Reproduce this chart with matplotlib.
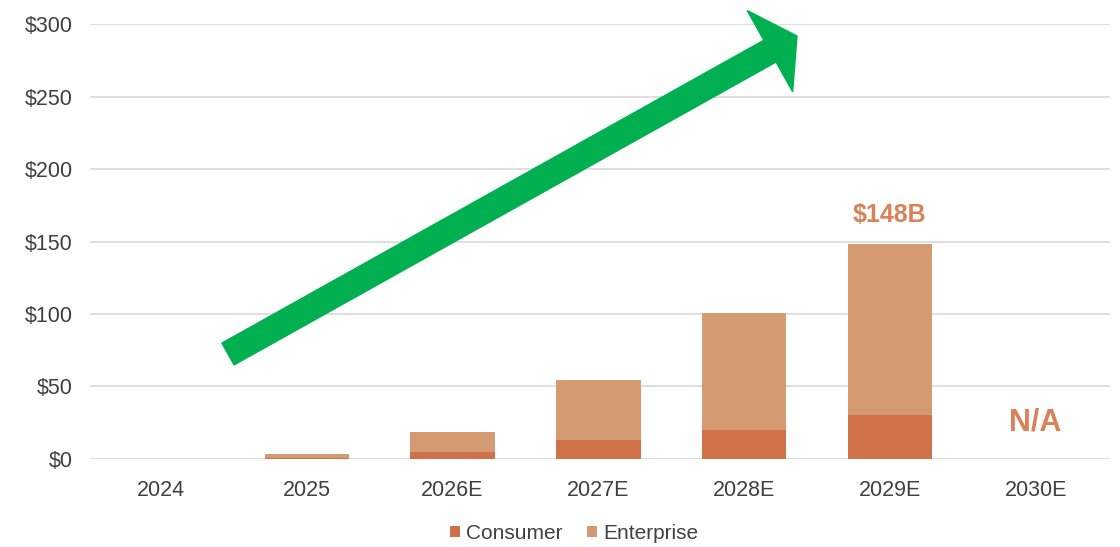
import numpy as np
import matplotlib
matplotlib.use('Agg')
import matplotlib.pyplot as plt
import matplotlib.patches as mpatches
from matplotlib.transforms import Affine2D

years = ['2024', '2025', '2026E', '2027E', '2028E', '2029E', '2030E']
consumer = [0, 0.5, 5, 13, 20, 30, 0]
enterprise = [0, 3, 13.5, 41.5, 81, 118, 0]
yticks = [0, 50, 100, 150, 200, 250, 300]

c_cons = '#D0714A'
c_ent = '#D49B73'
c_lbl = '#D9825A'
c_txt = '#404040'

plt.rcParams['font.family'] = ['Liberation Sans', 'DejaVu Sans']

fig = plt.figure(figsize=(11.2, 5.47), dpi=100)
ax = fig.add_axes([0.080, 0.161, 0.911, 0.795])

x = np.arange(len(years))
ax.bar(x, consumer, width=0.58, color=c_cons, label='Consumer', zorder=3)
ax.bar(x, enterprise, width=0.58, bottom=consumer, color=c_ent, label='Enterprise', zorder=3)

ax.set_xlim(-0.49, 6.51)
ax.set_ylim(0, 300)
ax.set_yticks(yticks)
ax.set_yticklabels(['$' + str(v) for v in yticks])
ax.set_xticks(x)
ax.set_xticklabels(years)
ax.tick_params(axis='both', length=0, labelsize=15.5, colors=c_txt)
ax.tick_params(axis='x', pad=15)
ax.tick_params(axis='y', pad=12)
ax.grid(axis='y', color='#d9d9d9', linewidth=1.2, zorder=0)
for s in ax.spines.values():
    s.set_visible(False)

total_2029 = consumer[5] + enterprise[5]
ax.text(5, total_2029 + 20, '$%dB' % round(total_2029), ha='center', va='center',
        fontsize=18, fontweight='bold', color=c_lbl)
ax.text(6, 25, 'N/A', ha='center', va='center', fontsize=22, fontweight='bold', color=c_lbl)

leg = ax.legend(loc='center', bbox_to_anchor=(0.475, -0.172), ncol=2, frameon=False,
                fontsize=15, handlelength=0.45, handleheight=0.45, handletextpad=0.3,
                columnspacing=1.2, borderpad=0)
for t in leg.get_texts():
    t.set_color(c_txt)

# big green trend arrow, drawn in image pixel coordinates (y down)
pix = Affine2D().scale(1, -1).translate(0, 547)
tail = (228, 354)
tip = (797, 36)
arrow = mpatches.FancyArrow(tail[0], tail[1], tip[0] - tail[0], tip[1] - tail[1],
                            width=25, head_width=93, head_length=31,
                            length_includes_head=True, color='#00B050',
                            transform=pix, zorder=5)
fig.add_artist(arrow)

fig.savefig('out.png', dpi=100)
